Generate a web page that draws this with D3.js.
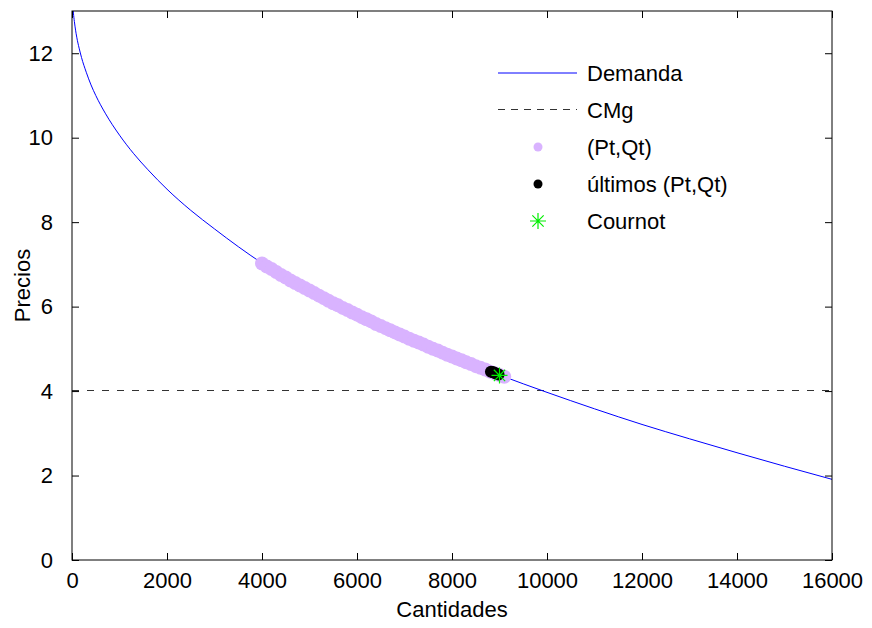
<!DOCTYPE html>
<html>
<head>
<meta charset="utf-8">
<script src="https://cdn.jsdelivr.net/npm/d3@7"></script>
<style>
  html, body { margin: 0; padding: 0; background: #fff; }
  svg { display: block; font-family: "Liberation Sans", Arial, Helvetica, sans-serif; }
</style>
</head>
<body>
<svg id="chart" width="872" height="628"></svg>
<script>
// Axis ticks
const xTicks = [0, 2000, 4000, 6000, 8000, 10000, 12000, 14000, 16000];
const yTicks = [0, 2, 4, 6, 8, 10, 12];

// Demand curve (quantity, price)
const demandQ = [15, 30, 50, 100, 150, 200, 300, 400, 500, 700, 1000, 1300, 1600, 2000, 2500, 3000, 3500, 4000,
                 5000, 6000, 7000, 8000, 9000, 10000, 11000, 12000, 13000, 14000, 15000, 16000];
const demandP = [13.15, 12.95, 12.75, 12.38, 12.12, 11.9, 11.55, 11.25, 11.0, 10.58, 10.06, 9.62, 9.24, 8.78, 8.28, 7.84, 7.42, 7.03,
                 6.38, 5.81, 5.29, 4.82, 4.38, 3.97, 3.58, 3.21, 2.87, 2.54, 2.22, 1.91];

// Marginal cost
const cmgQ = [0, 16000];
const cmgP = [4, 4];

// Price/quantity path (Pt, Qt)
const ptQ = [4000, 4100, 4200, 4300, 4400, 4500, 4600, 4700, 4800, 4900,
             5000, 5100, 5200, 5300, 5400, 5500, 5600, 5700, 5800, 5900,
             6000, 6100, 6200, 6300, 6400, 6500, 6600, 6700, 6800, 6900,
             7000, 7100, 7200, 7300, 7400, 7500, 7600, 7700, 7800, 7900,
             8000, 8100, 8200, 8300, 8400, 8500, 8600, 8700, 8800, 8900,
             9000, 9100];
const ptP = [7.02, 6.95, 6.89, 6.82, 6.75, 6.69, 6.62, 6.56, 6.50, 6.44,
             6.38, 6.32, 6.26, 6.20, 6.14, 6.08, 6.03, 5.97, 5.92, 5.86,
             5.81, 5.75, 5.70, 5.65, 5.59, 5.54, 5.49, 5.44, 5.39, 5.34,
             5.29, 5.24, 5.19, 5.15, 5.10, 5.05, 5.00, 4.96, 4.91, 4.86,
             4.82, 4.77, 4.73, 4.68, 4.64, 4.59, 4.55, 4.51, 4.46, 4.42,
             4.38, 4.34];

// Last iterations
const lastQ = [8820, 8860, 8900, 8940, 8980];
const lastP = [4.46, 4.45, 4.43, 4.41, 4.39];

// Cournot equilibrium
const cournotQ = [9000];
const cournotP = [4.37];

const legendLabels = ["Demanda", "CMg", "(Pt,Qt)", "últimos (Pt,Qt)", "Cournot"];

const colors = {
  demand: "#0000ff",
  cmg: "#333333",
  pt: "rgb(217,179,255)",
  last: "#000000",
  cournot: "#00ee00"
};

const svg = d3.select("#chart");
const m = { left: 72, right: 832, top: 11, bottom: 560 };

const x = d3.scaleLinear().domain([0, 16000]).range([m.left, m.right]);
const y = d3.scaleLinear().domain([0, 13]).range([m.bottom, m.top]);

svg.append("defs").append("clipPath").attr("id", "plotClip")
  .append("rect")
  .attr("x", m.left).attr("y", m.top)
  .attr("width", m.right - m.left).attr("height", m.bottom - m.top);

const plot = svg.append("g").attr("clip-path", "url(#plotClip)");

// CMg dashed line (snapped to the pixel grid)
plot.append("path")
  .datum(d3.zip(cmgQ, cmgP))
  .attr("d", d3.line().x(d => x(d[0])).y(d => Math.round(y(d[1])) - 0.5))
  .attr("fill", "none")
  .attr("stroke", colors.cmg)
  .attr("stroke-width", 1)
  .attr("stroke-dasharray", "7,8");

// Demand curve
plot.append("path")
  .datum(d3.zip(demandQ, demandP))
  .attr("d", d3.line().x(d => x(d[0])).y(d => y(d[1])).curve(d3.curveMonotoneX))
  .attr("fill", "none")
  .attr("stroke", colors.demand)
  .attr("stroke-width", 1);

// (Pt, Qt) points
plot.append("g").selectAll("circle")
  .data(d3.zip(ptQ, ptP))
  .join("circle")
  .attr("cx", d => x(d[0])).attr("cy", d => y(d[1]))
  .attr("r", 7)
  .attr("fill", colors.pt);

// last points
plot.append("g").selectAll("circle")
  .data(d3.zip(lastQ, lastP))
  .join("circle")
  .attr("cx", d => x(d[0])).attr("cy", d => y(d[1]))
  .attr("r", 6)
  .attr("fill", colors.last);

// asterisk marker
function star(g, cx, cy, s) {
  const a = s * 0.7071;
  const p = `M${cx - s},${cy}L${cx + s},${cy}M${cx},${cy - s}L${cx},${cy + s}` +
            `M${cx - a},${cy - a}L${cx + a},${cy + a}M${cx - a},${cy + a}L${cx + a},${cy - a}`;
  g.append("path").attr("d", p).attr("stroke", colors.cournot).attr("stroke-width", 1.2).attr("fill", "none");
}
d3.zip(cournotQ, cournotP).forEach(d => star(plot, x(d[0]), y(d[1]), 8));

// Axes box
svg.append("rect")
  .attr("x", m.left).attr("y", m.top)
  .attr("width", m.right - m.left).attr("height", m.bottom - m.top)
  .attr("fill", "none").attr("stroke", "#000").attr("stroke-width", 1);

const fmt = d3.format("d");
const tickLen = 7;

const xAxis = svg.append("g").attr("transform", `translate(0,${m.bottom})`)
  .call(d3.axisBottom(x).tickValues(xTicks).tickFormat(fmt).tickSizeInner(-tickLen).tickSizeOuter(0).tickPadding(12));
const xAxisTop = svg.append("g").attr("transform", `translate(0,${m.top})`)
  .call(d3.axisTop(x).tickValues(xTicks).tickFormat("").tickSizeInner(-tickLen).tickSizeOuter(0));
const yAxis = svg.append("g").attr("transform", `translate(${m.left},0)`)
  .call(d3.axisLeft(y).tickValues(yTicks).tickFormat(fmt).tickSizeInner(-tickLen).tickSizeOuter(0).tickPadding(19));
const yAxisRight = svg.append("g").attr("transform", `translate(${m.right},0)`)
  .call(d3.axisRight(y).tickValues(yTicks).tickFormat("").tickSizeInner(-tickLen).tickSizeOuter(0));

[xAxis, xAxisTop, yAxis, yAxisRight].forEach(a => {
  a.select(".domain").remove();
  a.selectAll("line").attr("stroke", "#000");
  a.selectAll("text").attr("font-size", 22).attr("fill", "#000")
    .attr("font-family", "'Liberation Sans', Arial, sans-serif");
});

// Axis titles
svg.append("text")
  .attr("x", (m.left + m.right) / 2).attr("y", 617)
  .attr("text-anchor", "middle").attr("font-size", 22).attr("fill", "#000")
  .text("Cantidades");
svg.append("text")
  .attr("transform", `translate(30,${(m.top + m.bottom) / 2}) rotate(-90)`)
  .attr("text-anchor", "middle").attr("font-size", 22).attr("fill", "#000")
  .text("Precios");

// Legend
const leg = svg.append("g");
const rowY = [73, 110, 147, 184, 221];
const lx0 = 498, lx1 = 577, mx = 538, tx = 587;

leg.append("line").attr("x1", lx0).attr("x2", lx1).attr("y1", rowY[0]).attr("y2", rowY[0])
  .attr("stroke", colors.demand).attr("stroke-width", 1);
leg.append("line").attr("x1", lx0).attr("x2", lx1).attr("y1", rowY[1] - 0.5).attr("y2", rowY[1] - 0.5)
  .attr("stroke", colors.cmg).attr("stroke-width", 1).attr("stroke-dasharray", "7,6");
leg.append("circle").attr("cx", mx).attr("cy", rowY[2]).attr("r", 4.5).attr("fill", colors.pt);
leg.append("circle").attr("cx", mx).attr("cy", rowY[3]).attr("r", 4.5).attr("fill", colors.last);
star(leg, mx, rowY[4], 8);

leg.selectAll("text.lbl")
  .data(legendLabels)
  .join("text")
  .attr("class", "lbl")
  .attr("x", tx).attr("y", (d, i) => rowY[i] + 8)
  .attr("font-size", 22).attr("fill", "#000")
  .text(d => d);
</script>
</body>
</html>
